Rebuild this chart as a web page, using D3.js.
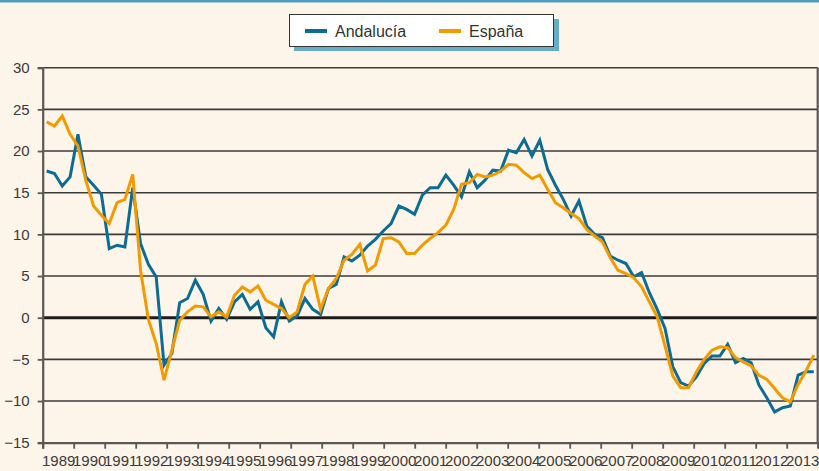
<!DOCTYPE html>
<html>
<head>
<meta charset="utf-8">
<script src="https://cdn.jsdelivr.net/npm/d3@7"></script>
<style>
  html, body { margin: 0; padding: 0; background: #fdf4ea; }
  svg { display: block; }
  .tick-label { font-family: "Liberation Sans Narrow", "Liberation Sans", sans-serif; font-size: 15px; fill: #3c3a38; }
  .legend-label { font-family: "Liberation Sans", sans-serif; font-size: 16px; fill: #333; }
</style>
</head>
<body>
<div id="root"></div>
<script>
const width = 819;
const height = 471;

// quarterly growth, 1989 Q1 .. 2013 Q3
const andalucia = [
  17.6, 17.3, 15.8, 16.9, 22.0, 16.9, 15.9, 14.8, 8.3, 8.7, 8.5, 15.6,
  8.9, 6.4, 4.9, -5.7, -4.3, 1.8, 2.3, 4.5, 2.8, -0.4, 1.1, -0.2,
  1.9, 2.8, 1.0, 1.9, -1.2, -2.3, 1.9, -0.4, 0.2, 2.3, 1.0, 0.4,
  3.5, 4.0, 7.3, 6.8, 7.5, 8.6, 9.4, 10.4, 11.3, 13.4, 13.0, 12.4,
  14.7, 15.6, 15.6, 17.1, 15.9, 14.5, 17.5, 15.6, 16.5, 17.7, 17.6, 20.1,
  19.8, 21.4, 19.4, 21.3, 17.8, 15.9, 14.2, 12.2, 14.0, 11.0, 10.0, 9.6,
  7.4, 6.9, 6.5, 4.9, 5.4, 3.0, 1.0, -1.3, -5.9, -7.8, -8.2, -7.1,
  -5.5, -4.6, -4.6, -3.2, -5.4, -4.9, -5.4, -8.1, -9.6, -11.3, -10.8, -10.6,
  -6.9, -6.5, -6.5
];
const espana = [
  23.5, 23.0, 24.2, 22.0, 20.6, 16.5, 13.4, 12.3, 11.3, 13.8, 14.2, 17.2,
  5.7, -0.2, -3.1, -7.5, -3.9, -0.3, 0.7, 1.4, 1.3, 0.1, 0.7, 0.1,
  2.7, 3.7, 3.1, 3.8, 2.1, 1.6, 1.1, 0.0, 0.7, 4.0, 5.0, 1.0,
  3.5, 4.7, 6.9, 7.6, 8.8, 5.6, 6.3, 9.5, 9.6, 9.1, 7.7, 7.7,
  8.7, 9.5, 10.2, 11.1, 13.0, 16.0, 16.2, 17.2, 16.9, 17.1, 17.6, 18.4,
  18.3, 17.4, 16.7, 17.1, 15.4, 13.8, 13.2, 12.5, 11.9, 10.6, 9.8, 9.1,
  7.2, 5.7, 5.3, 4.8, 3.7, 1.9, 0.1, -3.4, -7.0, -8.4, -8.4, -6.5,
  -5.0, -3.9, -3.5, -3.6, -4.8, -5.3, -5.8, -6.9, -7.4, -8.5, -9.6, -10.1,
  -8.0, -6.4, -4.5
];
const years = d3.range(1989, 2014);
const yTicks = [-15, -10, -5, 0, 5, 10, 15, 20, 25, 30];
const seriesNames = ['Andalucía', 'España'];
const colors = ['#0c6c93', '#f39a00'];

const margin = {left: 42.7, right: 1.3, top: 67.7, bottom: 28.3};
const svg = d3.select('#root')
  .append('svg')
  .attr('width', width)
  .attr('height', height);

// top band
svg.append('rect')
  .attr('x', 0).attr('y', 0)
  .attr('width', width).attr('height', 2.5)
  .attr('fill', '#4f9ec0');

const y = d3.scaleLinear()
  .domain([-15, 30])
  .range([height - margin.bottom, margin.top]);
const xYear = d3.scaleLinear()
  .domain([1989, 2014])
  .range([margin.left, width - margin.right]);
const x = d3.scalePoint()
  .domain(d3.range(andalucia.length))
  .range([margin.left, width - margin.right])
  .padding(0.5);

// grid
svg.append('g')
  .selectAll('line')
  .data(yTicks.filter(d => d !== -15))
  .join('line')
  .attr('x1', margin.left).attr('x2', width - margin.right)
  .attr('y1', d => y(d)).attr('y2', d => y(d))
  .attr('stroke', d => d === 0 ? '#1e1c1a' : '#3d3b39')
  .attr('stroke-width', d => d === 0 ? 3 : 1.6);

// y axis
const yAxis = svg.append('g')
  .attr('transform', `translate(${margin.left},0)`)
  .call(d3.axisLeft(y).tickValues(yTicks).tickSize(5).tickPadding(8));
yAxis.select('.domain').attr('stroke', '#5b5753').attr('stroke-width', 2.2);
yAxis.selectAll('.tick line').attr('stroke', '#5b5753').attr('stroke-width', 1.8);
yAxis.selectAll('.tick text').attr('class', 'tick-label').attr('font-family', null).attr('font-size', null);

// x axis
const xAxis = svg.append('g')
  .attr('transform', `translate(0,${y(-15)})`)
  .call(d3.axisBottom(xYear).tickValues(years).tickSize(6).tickFormat(d3.format('d')));
xAxis.select('.domain').attr('stroke', '#5b5753').attr('stroke-width', 2.2);
xAxis.selectAll('.tick line').attr('stroke', '#5b5753').attr('stroke-width', 1.8);
xAxis.selectAll('.tick text')
  .attr('class', 'tick-label')
  .attr('font-family', null).attr('font-size', null)
  .attr('x', (xYear(1990) - xYear(1989)) / 2)
  .attr('y', 13);

// right axis line
svg.append('line')
  .attr('x1', width - margin.right).attr('x2', width - margin.right)
  .attr('y1', y(30)).attr('y2', y(-15))
  .attr('stroke', '#5b5753').attr('stroke-width', 2.2);

// series
const line = d3.line()
  .x((d, i) => x(i))
  .y(d => y(d));
[andalucia, espana].forEach((s, k) => {
  svg.append('path')
    .datum(s)
    .attr('fill', 'none')
    .attr('stroke', colors[k])
    .attr('stroke-width', 3)
    .attr('stroke-linejoin', 'miter')
    .attr('d', line);
});

// legend
const lg = svg.append('g').attr('transform', 'translate(289,14)');
lg.append('rect')
  .attr('x', 5).attr('y', 5)
  .attr('width', 265).attr('height', 32)
  .attr('fill', '#68adc8');
lg.append('rect')
  .attr('x', 0.5).attr('y', 0.5)
  .attr('width', 264).attr('height', 32)
  .attr('fill', '#ffffff')
  .attr('stroke', '#333').attr('stroke-width', 1);
const items = lg.selectAll('g.item')
  .data(seriesNames)
  .join('g')
  .attr('class', 'item')
  .attr('transform', (d, i) => `translate(${16 + i * 134},17)`);
items.append('line')
  .attr('x1', 0).attr('x2', 22)
  .attr('stroke', (d, i) => colors[i])
  .attr('stroke-width', 4);
items.append('text')
  .attr('class', 'legend-label')
  .attr('x', 30).attr('dy', '0.35em')
  .text(d => d);
</script>
</body>
</html>
